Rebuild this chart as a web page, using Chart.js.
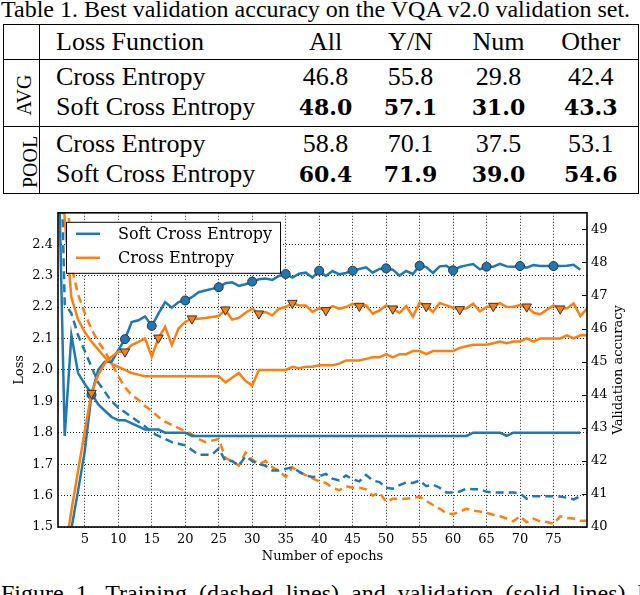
<!DOCTYPE html>
<html>
<head>
<meta charset="utf-8">
<title>VQA v2.0 loss / accuracy</title>
<script src="https://cdn.jsdelivr.net/npm/chart.js@4.4.1/dist/chart.umd.min.js"></script>
<style>
  html, body { margin: 0; padding: 0; background: #fff; }
  body { position: relative; width: 640px; height: 595px; overflow: hidden;
         font-family: "Liberation Serif", "Times New Roman", serif; color: #000; }
  .cap { position: absolute; left: 1px; white-space: nowrap; font-size: 24px; line-height: 24px; }
  #tableCap { top: -3px; }
  #figCap { top: 581px; word-spacing: 6px; }
  #results { position: absolute; left: 3px; top: 24px; width: 635px; border-collapse: collapse;
             table-layout: fixed; font-size: 26px; border: 1.5px solid #000; }
  #results td { padding: 0; white-space: nowrap; text-align: center; vertical-align: middle; }
  #results tr.head td { line-height: 34px; border-bottom: 1.5px solid #000; }
  #results tr.r1 td { line-height: 30px; padding-top: 2px; }
  #results tr.r2 td { line-height: 30px; padding-bottom: 4px; }
  #results tr.sep td, #results td.sep { border-bottom: 1.5px solid #000; }
  #results td.grp { border-right: 1.5px solid #000; padding: 0; line-height: 20px; }
  #results td.grp span { display: inline-block; transform: rotate(-90deg); font-size: 20px; }
  #results td.name { text-align: left; padding-left: 16px; }
  #results td.best { font-family: "DejaVu Serif", serif; font-weight: bold; font-size: 22px; }
  #chartBox { position: absolute; left: 0; top: 200px; width: 640px; height: 370px; }
</style>
</head>
<body>
<div id="tableCap" class="cap">Table 1. Best validation accuracy on the VQA v2.0 validation set.</div>
<table id="results">
  <colgroup>
    <col style="width:36px"><col style="width:244px"><col style="width:84px">
    <col style="width:86px"><col style="width:90px"><col style="width:95px">
  </colgroup>
  <tr class="head"><td class="grp"></td><td class="name">Loss Function</td><td>All</td><td>Y/N</td><td>Num</td><td>Other</td></tr>
  <tr class="r1"><td class="grp sep" rowspan="2"><span>AVG</span></td><td class="name">Cross Entropy</td><td>46.8</td><td>55.8</td><td>29.8</td><td>42.4</td></tr>
  <tr class="r2 sep"><td class="name">Soft Cross Entropy</td><td class="best">48.0</td><td class="best">57.1</td><td class="best">31.0</td><td class="best">43.3</td></tr>
  <tr class="r1"><td class="grp" rowspan="2"><span>POOL</span></td><td class="name">Cross Entropy</td><td>58.8</td><td>70.1</td><td>37.5</td><td>53.1</td></tr>
  <tr class="r2"><td class="name">Soft Cross Entropy</td><td class="best">60.4</td><td class="best">71.9</td><td class="best">39.0</td><td class="best">54.6</td></tr>
</table>
<div id="chartBox"><canvas id="lossChart" width="640" height="370"></canvas></div>
<div id="figCap" class="cap">Figure 1. Training (dashed lines) and validation (solid lines) loss and accuracy</div>

<script>
const epochs = [1, 2, 3, 4, 5, 6, 7, 8, 9, 10, 11, 12, 13, 14, 15, 16, 17, 18, 19, 20,
  21, 22, 23, 24, 25, 26, 27, 28, 29, 30, 31, 32, 33, 34, 35, 36, 37, 38, 39, 40,
  41, 42, 43, 44, 45, 46, 47, 48, 49, 50, 51, 52, 53, 54, 55, 56, 57, 58, 59, 60,
  61, 62, 63, 64, 65, 66, 67, 68, 69, 70, 71, 72, 73, 74, 75, 76, 77, 78, 79, 80];

const epochTicks = [5, 10, 15, 20, 25, 30, 35, 40, 45, 50, 55, 60, 65, 70, 75];
const lossTicks = [1.5, 1.6, 1.7, 1.8, 1.9, 2.0, 2.1, 2.2, 2.3, 2.4];
const accTicks = [40, 41, 42, 43, 44, 45, 46, 47, 48, 49];

const legendLabels = ['Soft Cross Entropy', 'Cross Entropy'];
const accTitle = 'Validation accuracy';
const blue = '#1f77b4';
const orange = '#ff7f0e';

// training loss (dashed)
const softTrainLoss = [3.10, 2.21, 2.18, 2.11, 2.06, 2.01, 1.96, 1.93, 1.90, 1.88,
  1.865, 1.85, 1.835, 1.82, 1.80, 1.79, 1.78, 1.77, 1.765, 1.76,
  1.745, 1.73, 1.73, 1.73, 1.75, 1.71, 1.71, 1.695, 1.725, 1.71,
  1.70, 1.695, 1.68, 1.68, 1.685, 1.69, 1.676, 1.664, 1.659, 1.662,
  1.669, 1.654, 1.648, 1.664, 1.652, 1.645, 1.666, 1.648, 1.643, 1.625,
  1.622, 1.633, 1.642, 1.64, 1.648, 1.63, 1.635, 1.625, 1.61, 1.61,
  1.613, 1.622, 1.62, 1.62, 1.612, 1.61, 1.61, 1.61, 1.61, 1.607,
  1.59, 1.598, 1.598, 1.598, 1.598, 1.597, 1.593, 1.588, 1.598];
const ceTrainLoss = [3.60, 2.75, 2.33, 2.24, 2.18, 2.13, 2.09, 2.06, 2.02, 1.98,
  1.945, 1.92, 1.905, 1.885, 1.87, 1.85, 1.835, 1.825, 1.815, 1.805,
  1.795, 1.78, 1.77, 1.775, 1.78, 1.72, 1.71, 1.695, 1.737, 1.715,
  1.70, 1.71, 1.69, 1.68, 1.659, 1.69, 1.675, 1.665, 1.655, 1.645,
  1.64, 1.625, 1.617, 1.63, 1.625, 1.625, 1.62, 1.60, 1.61, 1.58,
  1.59, 1.59, 1.59, 1.593, 1.596, 1.583, 1.57, 1.558, 1.544, 1.541,
  1.549, 1.558, 1.552, 1.549, 1.545, 1.539, 1.534, 1.527, 1.518, 1.534,
  1.515, 1.527, 1.518, 1.516, 1.51, 1.534, 1.529, 1.527, 1.52, 1.52];

// validation loss (solid, left axis)
const softValLoss = [2.75, 1.79, 2.11, 1.99, 1.955, 1.925, 1.89, 1.87, 1.85, 1.84,
  1.84, 1.83, 1.82, 1.81, 1.81, 1.81, 1.80, 1.80, 1.80, 1.80,
  1.79, 1.79, 1.79, 1.79, 1.79, 1.79, 1.79, 1.79, 1.79, 1.79,
  1.79, 1.79, 1.79, 1.79, 1.79, 1.79, 1.79, 1.79, 1.79, 1.79,
  1.79, 1.79, 1.79, 1.79, 1.79, 1.79, 1.79, 1.79, 1.79, 1.79,
  1.79, 1.79, 1.79, 1.79, 1.79, 1.79, 1.79, 1.79, 1.79, 1.79,
  1.79, 1.79, 1.80, 1.80, 1.80, 1.80, 1.80, 1.79, 1.80, 1.80,
  1.80, 1.80, 1.80, 1.80, 1.80, 1.80, 1.80, 1.80, 1.80];
const ceValLoss = [2.90, 2.48, 2.23, 2.16, 2.12, 2.09, 2.065, 2.04, 2.02, 2.01,
  2.00, 1.99, 1.985, 1.98, 1.98, 1.98, 1.98, 1.98, 1.98, 1.98,
  1.98, 1.98, 1.98, 1.98, 1.98, 1.96, 1.975, 1.99, 1.965, 1.95,
  2.00, 2.00, 2.00, 2.00, 2.00, 2.01, 2.005, 2.01, 2.01, 2.015,
  2.015, 2.015, 2.02, 2.03, 2.03, 2.03, 2.035, 2.04, 2.04, 2.05,
  2.04, 2.05, 2.05, 2.06, 2.06, 2.05, 2.06, 2.06, 2.06, 2.06,
  2.07, 2.075, 2.08, 2.08, 2.08, 2.085, 2.09, 2.085, 2.09, 2.09,
  2.10, 2.09, 2.10, 2.10, 2.10, 2.10, 2.11, 2.10, 2.11, 2.11];

// validation accuracy (solid with markers, right axis)
const softValAcc = [31.0, 36.5, 39.95, 41.1, 42.3, 44.0, 44.75, 45.0, 45.0, 45.35,
  45.68, 46.2, 46.25, 46.37, 46.08, 46.45, 46.8, 46.63, 46.8, 46.85,
  46.95, 47.1, 47.15, 47.2, 47.25, 47.37, 47.4, 47.29, 47.34, 47.42,
  47.49, 47.51, 47.47, 47.59, 47.65, 47.54, 47.66, 47.69, 47.54, 47.75,
  47.59, 47.74, 47.64, 47.68, 47.75, 47.8, 47.85, 47.69, 47.8, 47.82,
  47.78, 47.6, 47.74, 47.65, 47.9, 47.86, 47.68, 47.88, 47.9, 47.76,
  47.86, 47.91, 47.95, 47.79, 47.87, 47.87, 47.96, 47.88, 47.87, 47.89,
  47.84, 47.92, 47.89, 47.89, 47.89, 47.89, 47.9, 47.93, 47.78];
const ceValAcc = [34.0, 39.2, 40.5, 41.7, 42.9, 44.05, 44.6, 44.95, 45.15, 45.3,
  45.3, 45.5, 45.6, 45.7, 45.15, 45.72, 46.05, 45.5, 46.0, 46.2,
  46.3, 46.3, 46.32, 46.35, 46.38, 46.57, 46.27, 46.32, 46.48, 46.6,
  46.45, 46.5, 46.4, 46.6, 46.65, 46.77, 46.7, 46.7, 46.5, 46.62,
  46.55, 46.68, 46.6, 46.65, 46.75, 46.68, 46.7, 46.45, 46.55, 46.7,
  46.6, 46.47, 46.68, 46.36, 46.78, 46.67, 46.5, 46.77, 46.7, 46.63,
  46.58, 46.61, 46.75, 46.52, 46.65, 46.68, 46.77, 46.65, 46.66, 46.71,
  46.66, 46.48, 46.43, 46.57, 46.7, 46.6, 46.61, 46.76, 46.38, 46.6];

const softMarkEpochs = [6, 11, 15, 20, 25, 30, 35, 40, 45, 50, 55, 60, 65, 70, 75];
const ceMarkEpochs = [6, 11, 16, 21, 26, 31, 36, 41, 46, 51, 56, 61, 66, 71, 76];

const toPoints = (values) => values.map((v, i) => ({ x: epochs[i], y: v }));
const markRadius = (marks, r) => epochs.map(e => marks.includes(e) ? r : 0);

const tickFont = { family: 'DejaVu Serif', size: 13 };
const gridOpts = { color: 'rgba(0,0,0,0.85)', lineWidth: 1, drawTicks: false };

const paperFrame = {
    id: 'paperFrame',
    afterDraw(chart) {
        const { ctx, chartArea: a, scales } = chart;
        ctx.save();

        // inward ticks on the accuracy axis
        ctx.strokeStyle = '#000';
        ctx.lineWidth = 1;
        scales.y2.ticks.forEach(t => {
            const y = Math.round(scales.y2.getPixelForValue(t.value)) + 0.5;
            ctx.beginPath();
            ctx.moveTo(a.right - 5, y);
            ctx.lineTo(a.right, y);
            ctx.stroke();
        });

        ctx.lineWidth = 1.6;
        ctx.strokeRect(a.left, a.top, a.right - a.left, a.bottom - a.top);

        // right axis title, reading bottom to top like the left one
        ctx.save();
        ctx.translate(scales.y2.right - 21, (a.top + a.bottom) / 2);
        ctx.rotate(-Math.PI / 2);
        ctx.font = '13px "DejaVu Serif"';
        ctx.fillStyle = '#000';
        ctx.textAlign = 'center';
        ctx.textBaseline = 'middle';
        ctx.fillText(accTitle, 0, 0);
        ctx.restore();

        // legend box (upper left, inside the axes)
        ctx.font = '16px "DejaVu Serif"';
        const colors = [blue, orange];
        const lx = a.left + 8, ly = a.top + 9;
        const w = 52 + Math.max(...legendLabels.map(l => ctx.measureText(l).width)) + 8;
        const h = 51;
        ctx.fillStyle = '#fff';
        ctx.fillRect(lx, ly, w, h);
        ctx.lineWidth = 1;
        ctx.strokeStyle = '#000';
        ctx.strokeRect(lx + 0.5, ly + 0.5, w, h);
        legendLabels.forEach((label, i) => {
            const y = ly + 12 + i * 24;
            ctx.strokeStyle = colors[i];
            ctx.lineWidth = 2.5;
            ctx.beginPath();
            ctx.moveTo(lx + 10, y);
            ctx.lineTo(lx + 34, y);
            ctx.stroke();
            ctx.fillStyle = '#000';
            ctx.textBaseline = 'middle';
            ctx.fillText(label, lx + 52, y + 1);
        });
        ctx.restore();
    }
};

Chart.defaults.color = '#000';
Chart.defaults.font.family = 'DejaVu Serif';

const ctx = document.getElementById('lossChart').getContext('2d');
new Chart(ctx, {
    type: 'line',
    data: {
        datasets: [
            {
                label: 'Cross Entropy (val acc)',
                data: toPoints(ceValAcc),
                yAxisID: 'y2',
                borderColor: orange,
                borderWidth: 2.5,
                pointStyle: 'triangle',
                rotation: 180,
                pointRadius: markRadius(ceMarkEpochs, 5.5),
                pointBackgroundColor: orange,
                pointBorderColor: '#333',
                pointBorderWidth: 1,
            },
            {
                label: 'Soft Cross Entropy (val acc)',
                data: toPoints(softValAcc),
                yAxisID: 'y2',
                borderColor: blue,
                borderWidth: 2.5,
                pointStyle: 'circle',
                pointRadius: markRadius(softMarkEpochs, 4.5),
                pointBackgroundColor: blue,
                pointBorderColor: '#333',
                pointBorderWidth: 1,
            },
            {
                label: 'Soft Cross Entropy (val loss)',
                data: toPoints(softValLoss),
                yAxisID: 'y',
                borderColor: blue,
                borderWidth: 2.5,
                pointRadius: 0,
            },
            {
                label: 'Cross Entropy (val loss)',
                data: toPoints(ceValLoss),
                yAxisID: 'y',
                borderColor: orange,
                borderWidth: 2.5,
                pointRadius: 0,
            },
            {
                label: 'Soft Cross Entropy (train loss)',
                data: toPoints(softTrainLoss),
                yAxisID: 'y',
                borderColor: blue,
                borderWidth: 2.5,
                borderDash: [8, 5],
                pointRadius: 0,
            },
            {
                label: 'Cross Entropy (train loss)',
                data: toPoints(ceTrainLoss),
                yAxisID: 'y',
                borderColor: orange,
                borderWidth: 2.5,
                borderDash: [8, 5],
                pointRadius: 0,
            }
        ]
    },
    options: {
        responsive: false,
        animation: false,
        layout: { padding: { top: 7, left: 0, right: 0, bottom: 0 } },
        plugins: {
            legend: { display: false },
            tooltip: { enabled: false }
        },
        elements: { line: { tension: 0, fill: false } },
        scales: {
            x: {
                type: 'linear',
                min: 1,
                max: 80,
                afterBuildTicks: (s) => { s.ticks = epochTicks.map(v => ({ value: v })); },
                afterFit: (s) => { s.height = 43; },
                grid: gridOpts,
                border: { display: false, dash: [1, 2] },
                ticks: { font: tickFont, padding: 5, maxRotation: 0, autoSkip: false },
                title: { display: true, text: 'Number of epochs', font: tickFont, padding: { top: 0, bottom: 6 } }
            },
            y: {
                type: 'linear',
                position: 'left',
                min: 1.5,
                max: 2.5,
                afterBuildTicks: (s) => { s.ticks = lossTicks.map(v => ({ value: v })); },
                afterFit: (s) => { s.width = 58; },
                grid: gridOpts,
                border: { display: false, dash: [1, 2] },
                ticks: { font: tickFont, padding: 5, callback: (v) => Number(v).toFixed(1) },
                title: { display: true, text: 'Loss', font: tickFont, padding: { top: 12, bottom: 0 } }
            },
            y2: {
                type: 'linear',
                position: 'right',
                min: 40,
                max: 49.5,
                afterBuildTicks: (s) => { s.ticks = accTicks.map(v => ({ value: v })); },
                afterFit: (s) => { s.width = 53; },
                grid: { drawOnChartArea: false, drawTicks: false },
                border: { display: false },
                ticks: { font: tickFont, padding: 4 }
            }
        }
    },
    plugins: [paperFrame]
});
</script>
</body>
</html>
